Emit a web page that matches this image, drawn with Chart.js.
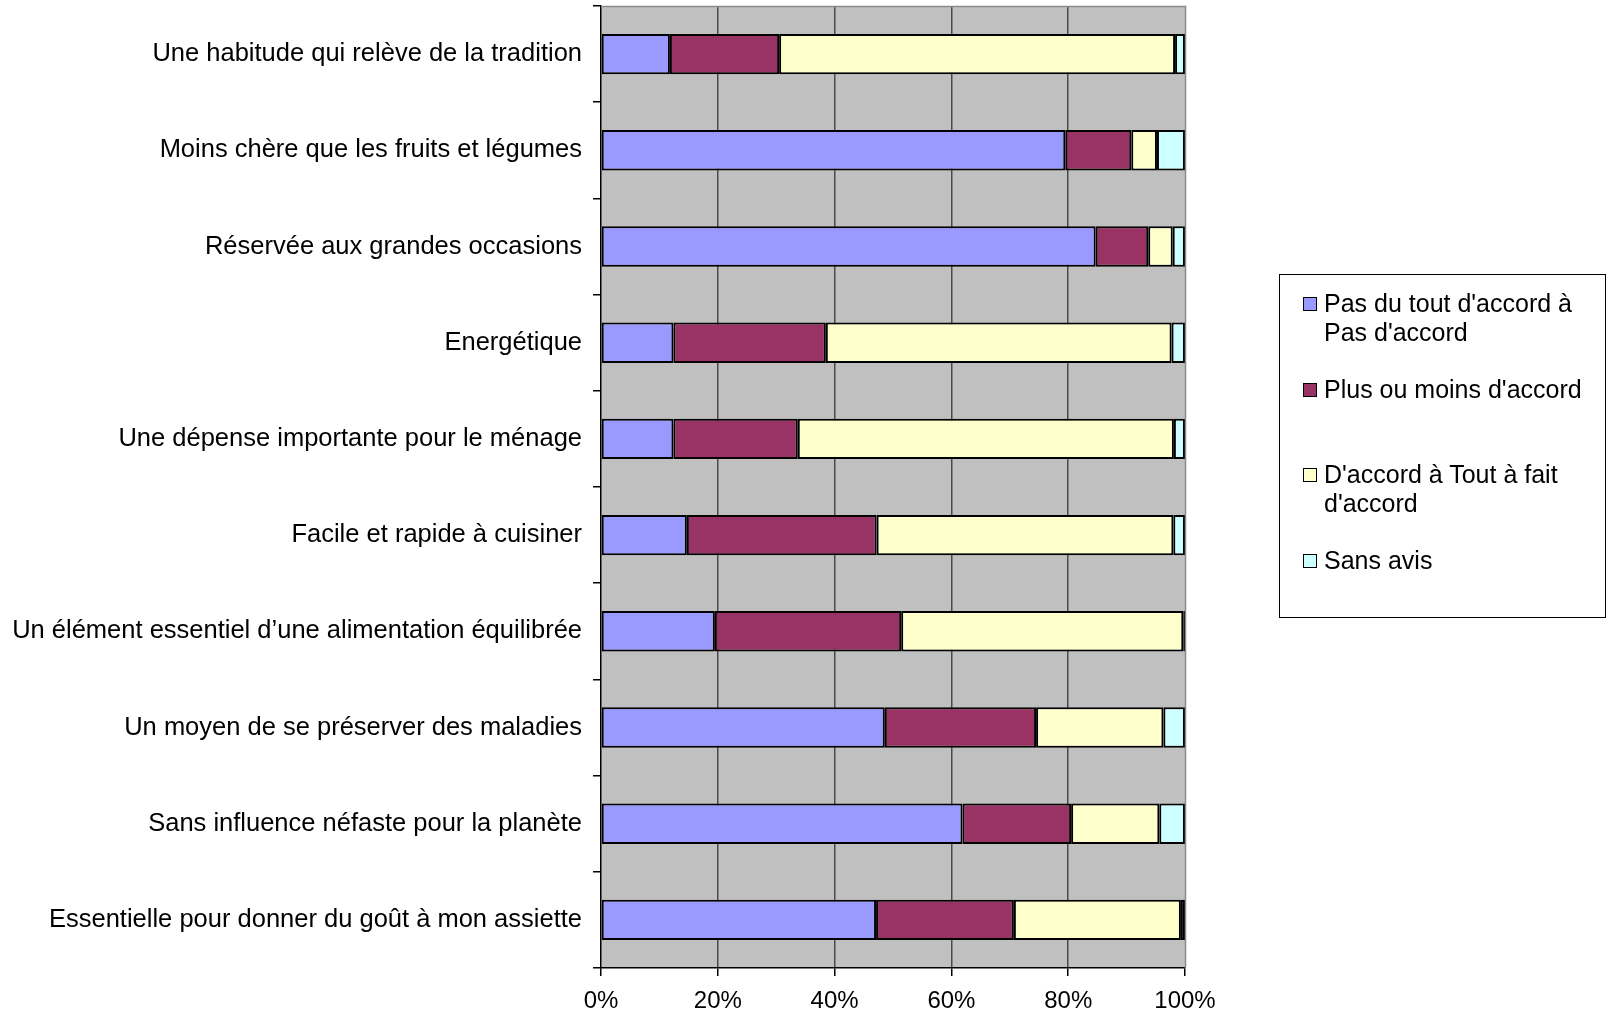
<!DOCTYPE html>
<html>
<head>
<meta charset="utf-8">
<script src="https://cdn.jsdelivr.net/npm/chart.js@4"></script>
<style>
  html, body { margin: 0; padding: 0; background: #ffffff; }
  #wrap { position: relative; width: 1612px; height: 1019px; }
  #legend {
    position: absolute; left: 1279px; top: 274px; width: 327px; height: 344px;
    border: 1px solid #000; box-sizing: border-box; background: #fff;
    font-family: "Liberation Sans", Arial, sans-serif; font-size: 25px; line-height: 29px; color: #000;
    padding-top: 14px;
  }
  .item { position: relative; height: 85.5px; padding-left: 44px; }
  .sw { position: absolute; left: 23px; top: 8px; width: 12px; height: 12px; border: 1px solid #000; }
  .txt { width: 275px; }
</style>
</head>
<body>
<div id="wrap">
  <canvas id="c" width="1612" height="1019"></canvas>
  <div id="legend"></div>
</div>
<script>
const categories = [
  "Une habitude qui relève de la tradition",
  "Moins chère que les fruits et légumes",
  "Réservée aux grandes occasions",
  "Energétique",
  "Une dépense importante pour le ménage",
  "Facile et rapide à cuisiner",
  "Un élément essentiel d\u2019une alimentation équilibrée",
  "Un moyen de se préserver des maladies",
  "Sans influence néfaste pour la planète",
  "Essentielle pour donner du goût à mon assiette"
];
const seriesNames = [
  "Pas du tout d'accord à Pas d'accord",
  "Plus ou moins d'accord",
  "D'accord à Tout à fait d'accord",
  "Sans avis"
];
const pasDaccord   = [11.8, 79.5, 84.7, 12.4, 12.4, 14.7, 19.5, 48.6, 61.9, 47.1];
const plusOuMoins  = [18.7, 11.3,  9.0, 26.1, 21.3, 32.5, 31.9, 25.9, 18.6, 23.6];
const daccord      = [67.8,  4.4,  4.2, 59.2, 64.4, 50.8, 48.3, 21.8, 15.1, 28.6];
const sansAvis     = [ 1.7,  4.8,  2.1,  2.3,  1.9,  2.0,  0.3,  3.7,  4.4,  0.7];
const xTicks = [0, 20, 40, 60, 80, 100];
const colors = ["#9999FF", "#993366", "#FFFFCC", "#CCFFFF"];
const seriesValues = [pasDaccord, plusOuMoins, daccord, sansAvis];

const FONT = '"Liberation Sans", Arial, sans-serif';

const plotBg = {
  id: 'plotBg',
  beforeDraw(chart) {
    const {ctx, chartArea: a} = chart;
    ctx.save();
    ctx.fillStyle = '#C0C0C0';
    ctx.fillRect(a.left, a.top, a.right - a.left, a.bottom - a.top);
    ctx.restore();
  },
  afterDatasetsDraw(chart) {
    const {ctx, chartArea: a} = chart;
    ctx.save();
    ctx.strokeStyle = '#8a8a8a';
    ctx.lineWidth = 1.5;
    ctx.beginPath();
    ctx.moveTo(a.left, a.top + 0.5);
    ctx.lineTo(a.right + 0.5, a.top + 0.5);
    ctx.lineTo(a.right + 0.5, a.bottom);
    ctx.stroke();
    ctx.restore();
  }
};

new Chart(document.getElementById('c'), {
  type: 'bar',
  data: {
    labels: categories,
    datasets: seriesNames.map((n, i) => ({
      label: n,
      data: seriesValues[i],
      backgroundColor: colors[i],
      borderColor: '#000000',
      borderWidth: 2,
      borderSkipped: false,
      categoryPercentage: 1,
      barPercentage: 0.42
    }))
  },
  options: {
    indexAxis: 'y',
    responsive: false,
    animation: false,
    layout: { padding: { top: 6, right: 427, left: 0, bottom: 0 } },
    plugins: { legend: { display: false }, tooltip: { enabled: false } },
    scales: {
      x: {
        stacked: true,
        min: 0, max: 100,
        afterFit(s) { s.height = 51; s.paddingLeft = 0; s.paddingRight = 0; },
        afterBuildTicks(s) { s.ticks = xTicks.map(v => ({ value: v })); },
        ticks: {
          callback: v => v + '%',
          color: '#000', padding: 11,
          font: { family: FONT, size: 24 },
          maxRotation: 0
        },
        grid: {
          color: ctx => (ctx.tick && (ctx.tick.value === 100 || ctx.tick.value === 0)) ? 'rgba(0,0,0,0)' : '#4a4a4a',
          lineWidth: 1.5,
          tickColor: '#000',
          tickLength: 8,
          drawTicks: true
        },
        border: { display: true, color: '#000', width: 1.5 }
      },
      y: {
        stacked: true,
        afterFit(s) { s.width = 601; s.paddingTop = 0; s.paddingBottom = 0; },
        ticks: {
          color: '#000', padding: 11,
          font: { family: FONT, size: 25.5 }
        },
        grid: {
          offset: true,
          drawOnChartArea: false,
          drawTicks: true,
          tickLength: 8,
          tickColor: '#000',
          lineWidth: 1.5
        },
        border: { display: true, color: '#000', width: 1.5 }
      }
    }
  },
  plugins: [plotBg]
});

const leg = document.getElementById('legend');
seriesNames.forEach((n, i) => {
  const it = document.createElement('div');
  it.className = 'item';
  const sw = document.createElement('div');
  sw.className = 'sw';
  sw.style.background = colors[i];
  const t = document.createElement('div');
  t.className = 'txt';
  t.textContent = n;
  it.appendChild(sw);
  it.appendChild(t);
  leg.appendChild(it);
});
</script>
</body>
</html>
